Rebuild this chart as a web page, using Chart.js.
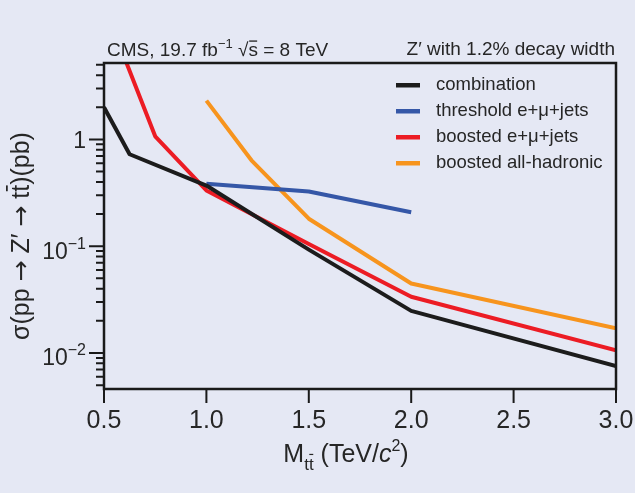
<!DOCTYPE html>
<html>
<head>
<meta charset="utf-8">
<script src="https://cdn.jsdelivr.net/npm/chart.js@4.4.1/dist/chart.umd.min.js"></script>
<style>
  html, body { margin: 0; padding: 0; background: #e5e8f4; }
  canvas { display: block; }
</style>
</head>
<body>
<canvas id="zprime" width="635" height="493"></canvas>
<script>
// limits (pb), Z' mass in TeV
const massCombination = [0.5, 0.625, 1.0, 1.5, 2.0, 3.0];
const limitCombination = [2.0, 0.727, 0.37, 0.093, 0.0248, 0.00753];
const massThreshold = [1.0, 1.5, 2.0];
const limitThreshold = [0.385, 0.326, 0.208];
const massBoostedLep = [0.5, 0.75, 1.0, 1.5, 2.0, 3.0];
const limitBoostedLep = [18, 1.07, 0.333, 0.105, 0.0336, 0.0106];
const massAllHad = [1.0, 1.22, 1.5, 2.0, 3.0];
const limitAllHad = [2.31, 0.638, 0.181, 0.0448, 0.0170];

const seriesNames = ['combination', 'threshold e+\u03bc+jets', 'boosted e+\u03bc+jets', 'boosted all-hadronic'];
const seriesColors = ['#1c1c1c', '#3557a7', '#ec1c24', '#f7941d'];

const xTicks = [0.5, 1.0, 1.5, 2.0, 2.5, 3.0];
const yMajorTicks = [0.01, 0.1, 1];
const yTickExponents = ['\u22122', '\u22121', ''];

const ink = '#262626';
const bg = '#e5e8f4';

function pts(xs, ys) {
  return xs.map((x, i) => ({ x: x, y: ys[i] }));
}

function font(size, style, family) {
  return (style || '') + ' ' + size + 'px ' + (family || '"Liberation Sans", Arial, sans-serif');
}

// draws a run of text pieces (sub/superscripts, overbars)
function richText(ctx, parts, x, y, align) {
  let total = 0;
  parts.forEach(p => {
    ctx.font = font(p.size, p.italic ? 'italic' : '', p.family);
    p.w = ctx.measureText(p.t).width;
    total += p.w;
  });
  let cx = align === 'right' ? x - total : align === 'center' ? x - total / 2 : x;
  ctx.textAlign = 'left';
  ctx.textBaseline = 'alphabetic';
  parts.forEach(p => {
    const by = y + (p.dy || 0);
    ctx.font = font(p.size, p.italic ? 'italic' : '', p.family);
    ctx.fillText(p.t, cx, by);
    if (p.bar) {
      ctx.fillRect(cx + p.w * 0.08, by - p.size * p.bar, p.w * 0.84, Math.max(1.2, p.size * 0.07));
    }
    cx += p.w;
  });
}

const decorations = {
  id: 'decorations',
  beforeDraw(chart) {
    const ctx = chart.ctx;
    ctx.save();
    ctx.fillStyle = bg;
    ctx.fillRect(0, 0, chart.width, chart.height);
    ctx.restore();
  },
  afterDatasetsDraw(chart) {
    const ctx = chart.ctx, a = chart.chartArea;
    const xs = chart.scales.x, ys = chart.scales.y;
    ctx.save();
    ctx.strokeStyle = '#1a1a1a';
    ctx.lineWidth = 2.5;
    ctx.strokeRect(a.left, a.top, a.right - a.left, a.bottom - a.top);

    // tick marks
    ctx.lineWidth = 2;
    ctx.beginPath();
    xTicks.forEach(v => {
      const px = xs.getPixelForValue(v);
      ctx.moveTo(px, a.bottom);
      ctx.lineTo(px, a.bottom + 14);
    });
    for (let d = -3; d <= 0; d++) {
      for (let k = 1; k <= 9; k++) {
        const v = k * Math.pow(10, d);
        if (v < ys.min || v > ys.max) continue;
        const py = ys.getPixelForValue(v);
        ctx.moveTo(a.left, py);
        ctx.lineTo(a.left - (k === 1 ? 15 : 8), py);
      }
    }
    ctx.stroke();
    ctx.restore();
  },
  afterDraw(chart) {
    const ctx = chart.ctx;
    const xs = chart.scales.x, ys = chart.scales.y;
    ctx.save();
    ctx.fillStyle = ink;

    // x tick labels
    ctx.font = font(25);
    ctx.textAlign = 'center';
    ctx.textBaseline = 'alphabetic';
    xTicks.forEach(v => ctx.fillText(v.toFixed(1), xs.getPixelForValue(v), 428));

    // y tick labels
    yMajorTicks.forEach((v, i) => {
      const py = ys.getPixelForValue(v);
      if (yTickExponents[i] === '') {
        richText(ctx, [{ t: '1', size: 23 }], 86, py + 9, 'right');
      } else {
        richText(ctx, [{ t: '10', size: 23 }, { t: yTickExponents[i], size: 16, dy: -10 }], 86, py + 12.5, 'right');
      }
    });

    // axis titles
    richText(ctx, [
      { t: 'M', size: 25 },
      { t: 't', size: 17, dy: 8 },
      { t: 't', size: 17, dy: 8, bar: 0.95 },
      { t: ' (TeV/', size: 25 },
      { t: 'c', size: 25, italic: true },
      { t: '2', size: 16, dy: -11 },
      { t: ')', size: 25 }
    ], 346, 462, 'center');

    const arrowFamily = '"DejaVu Sans", sans-serif';
    ctx.save();
    ctx.translate(29, 236);
    ctx.rotate(-Math.PI / 2);
    richText(ctx, [
      { t: '\u03c3(pp ', size: 25 },
      { t: '\u2192', size: 25, family: arrowFamily },
      { t: ' Z\u2032 ', size: 25 },
      { t: '\u2192', size: 25, family: arrowFamily },
      { t: ' t', size: 25 },
      { t: 't', size: 25, bar: 0.92 },
      { t: ')(pb)', size: 25 }
    ], 0, 0, 'center');
    ctx.restore();

    // header texts
    richText(ctx, [
      { t: 'CMS, 19.7 fb', size: 19 },
      { t: '\u22121', size: 13, dy: -8 },
      { t: ' \u221a', size: 19 },
      { t: 's', size: 19, bar: 0.82 },
      { t: ' = 8 TeV', size: 19 }
    ], 107, 56, 'left');
    richText(ctx, [{ t: 'Z\u2032 with 1.2% decay width', size: 19 }], 615, 55, 'right');

    // legend
    seriesNames.forEach((name, i) => {
      const ly = 85 + i * 26;
      ctx.fillStyle = seriesColors[i];
      ctx.fillRect(396, ly - 2, 24, 4.5);
      ctx.fillStyle = ink;
      ctx.font = font(18.5);
      ctx.textAlign = 'left';
      ctx.textBaseline = 'middle';
      ctx.fillText(name, 436, ly);
    });
    ctx.restore();
  }
};

const lineStyle = { borderWidth: 4, pointRadius: 0, tension: 0, fill: false, borderJoinStyle: 'round', borderCapStyle: 'butt' };

new Chart(document.getElementById('zprime'), {
  type: 'line',
  data: {
    datasets: [
      Object.assign({ label: seriesNames[0], data: pts(massCombination, limitCombination), borderColor: seriesColors[0] }, lineStyle),
      Object.assign({ label: seriesNames[1], data: pts(massThreshold, limitThreshold), borderColor: seriesColors[1] }, lineStyle),
      Object.assign({ label: seriesNames[2], data: pts(massBoostedLep, limitBoostedLep), borderColor: seriesColors[2] }, lineStyle),
      Object.assign({ label: seriesNames[3], data: pts(massAllHad, limitAllHad), borderColor: seriesColors[3] }, lineStyle)
    ]
  },
  options: {
    responsive: false,
    animation: false,
    devicePixelRatio: 1,
    layout: { padding: { left: 0, right: 19, top: 63, bottom: 0 } },
    plugins: { legend: { display: false }, tooltip: { enabled: false } },
    scales: {
      x: {
        type: 'linear', min: 0.5, max: 3.0,
        ticks: { display: false },
        grid: { display: false },
        border: { display: false },
        afterFit: s => { s.height = 104; }
      },
      y: {
        type: 'logarithmic', min: 0.0046, max: 5.2,
        ticks: { display: false },
        grid: { display: false },
        border: { display: false },
        afterFit: s => { s.width = 104; }
      }
    }
  },
  plugins: [decorations]
});
</script>
</body>
</html>
